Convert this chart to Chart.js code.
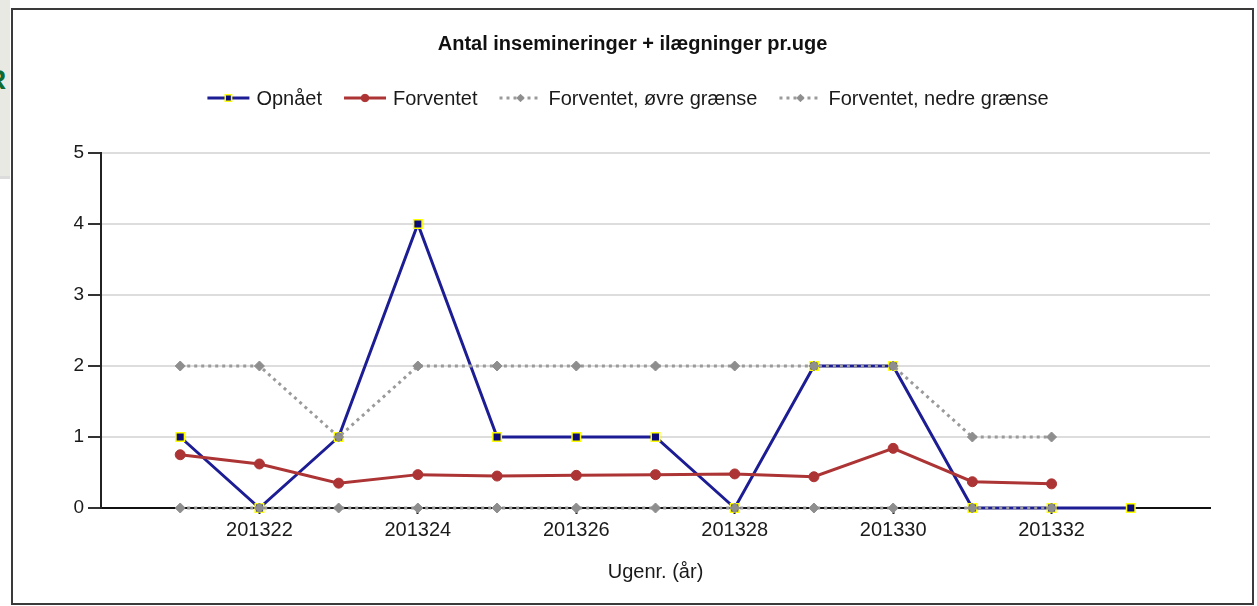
<!DOCTYPE html>
<html>
<head>
<meta charset="utf-8">
<script src="https://cdn.jsdelivr.net/npm/chart.js@4/dist/chart.umd.min.js"></script>
<style>
  body { margin: 0; background: #fff; width: 1257px; height: 606px; overflow: hidden; position: relative; }
  .strip { position: absolute; left: 0; top: 0; width: 10px; height: 176px; background: #e9e9e3; border-bottom: 3px solid #dcdcdc; overflow: hidden; }
  .strip span { position: absolute; left: -14px; top: 64px; font: bold 28px "Liberation Sans", Arial, sans-serif; color: #0b6b33; }
  .frame { position: absolute; left: 11px; top: 8px; width: 1243px; height: 597px; box-sizing: border-box; border: 2px solid #3a3a3a; }
  .wrap { position: absolute; left: 13px; top: 10px; width: 1239px; height: 593px; }
</style>
</head>
<body>
<div class="strip"><span>R</span></div>
<div class="frame"></div>
<div class="wrap"><canvas id="chart"></canvas></div>
<script>
// ── DATA ──
const weeks = [201321, 201322, 201323, 201324, 201325, 201326, 201327, 201328, 201329, 201330, 201331, 201332, 201333];
const opnaaet = [1, 0, 1, 4, 1, 1, 1, 0, 2, 2, 0, 0, 0];
const forventet = [0.75, 0.62, 0.35, 0.47, 0.45, 0.46, 0.47, 0.48, 0.44, 0.84, 0.37, 0.34, null];
const oevreGraense = [2, 2, 1, 2, 2, 2, 2, 2, 2, 2, 1, 1, null];
const nedreGraense = [0, 0, 0, 0, 0, 0, 0, 0, 0, 0, 0, 0, null];
const yTicks = [0, 1, 2, 3, 4, 5];

const FONT = '"Liberation Sans", Arial, sans-serif';
const pts = arr => weeks.map((w, i) => ({ x: w, y: arr[i] }));

// legend: line sample with a small marker in the middle, then the text
const lineLegend = {
  id: 'lineLegend',
  afterDraw(chart) {
    const ctx = chart.ctx;
    const sets = chart.data.datasets;
    const sample = 42, gapText = 7, gapItem = 22, y = 88;
    ctx.save();
    ctx.font = '20px ' + FONT;
    const widths = sets.map(d => sample + gapText + ctx.measureText(d.label).width);
    const total = widths.reduce((a, b) => a + b, 0) + gapItem * (sets.length - 1);
    let x = 615 - total / 2;
    sets.forEach((d, i) => {
      ctx.strokeStyle = d.borderColor;
      ctx.lineWidth = d.borderWidth;
      ctx.setLineDash(d.borderDash || []);
      ctx.beginPath();
      ctx.moveTo(x, y);
      ctx.lineTo(x + sample, y);
      ctx.stroke();
      ctx.setLineDash([]);
      ctx.fillStyle = d.pointBackgroundColor;
      ctx.strokeStyle = d.pointBorderColor;
      ctx.lineWidth = d.pointBorderWidth;
      Chart.helpers.drawPoint(ctx, {
        pointStyle: d.pointStyle,
        radius: d.pointRadius * 0.75,
        rotation: 0,
        borderWidth: d.pointBorderWidth
      }, x + sample / 2, y);
      ctx.fillStyle = '#1a1a1a';
      ctx.textBaseline = 'middle';
      ctx.fillText(d.label, x + sample + gapText, y + 1);
      x += widths[i] + gapItem;
    });
    ctx.restore();
  }
};

window.addEventListener('DOMContentLoaded', () => {
  const canvas = document.getElementById('chart');
  new Chart(canvas.getContext('2d'), {
    type: 'line',
    data: {
      datasets: [
        {
          label: 'Opnået',
          data: pts(opnaaet),
          borderColor: '#1c1c94',
          borderWidth: 3,
          pointStyle: 'rect',
          pointRadius: 6,
          pointHoverRadius: 6,
          pointBackgroundColor: '#0c0c78',
          pointBorderColor: '#ffff00',
          pointBorderWidth: 1.5,
          order: 3,
          clip: false,
        },
        {
          label: 'Forventet',
          data: pts(forventet),
          borderColor: '#ad3434',
          borderWidth: 3,
          pointStyle: 'circle',
          pointRadius: 5,
          pointHoverRadius: 5,
          pointBackgroundColor: '#ad3434',
          pointBorderColor: '#ad3434',
          pointBorderWidth: 1,
          order: 2,
          clip: false,
        },
        {
          label: 'Forventet, øvre grænse',
          data: pts(oevreGraense),
          borderColor: '#9a9a9a',
          borderWidth: 3,
          borderDash: [3, 4],
          pointStyle: 'rectRot',
          pointRadius: 5,
          pointHoverRadius: 5,
          pointBackgroundColor: '#8e8e8e',
          pointBorderColor: '#8e8e8e',
          pointBorderWidth: 1,
          order: 1,
          clip: false,
        },
        {
          label: 'Forventet, nedre grænse',
          data: pts(nedreGraense),
          borderColor: '#9a9a9a',
          borderWidth: 3,
          borderDash: [3, 4],
          pointStyle: 'rectRot',
          pointRadius: 5,
          pointHoverRadius: 5,
          pointBackgroundColor: '#8e8e8e',
          pointBorderColor: '#8e8e8e',
          pointBorderWidth: 1,
          order: 0,
          clip: false,
        },
      ],
    },
    options: {
      responsive: true,
      maintainAspectRatio: false,
      animation: false,
      layout: { padding: { left: 42, right: 42, top: 0, bottom: 0 } },
      plugins: {
        legend: { display: false },
        tooltip: { enabled: false },
        title: {
          display: true,
          text: 'Antal insemineringer + ilægninger pr.uge',
          color: '#111',
          font: { family: FONT, size: 20, weight: 'bold', lineHeight: 1.2 },
          padding: { top: 22, bottom: 97 },
        },
      },
      scales: {
        x: {
          type: 'linear',
          min: weeks[0] - 1,
          max: weeks[weeks.length - 1] + 1,
          afterFit: s => { s.height = 95; },
          afterBuildTicks: s => { s.ticks = []; for (let w = s.min; w <= s.max; w += 2) s.ticks.push({ value: w }); },
          ticks: {
            autoSkip: false,
            maxRotation: 0,
            padding: 4,
            color: '#1a1a1a',
            font: { family: FONT, size: 20 },
            callback: v => (v > weeks[0] && v < weeks[weeks.length - 1]) ? String(v) : '',
          },
          grid: {
            drawOnChartArea: false,
            tickLength: 6,
            tickWidth: 2,
            tickColor: c => (c.tick && c.tick.value > weeks[0] && c.tick.value < weeks[weeks.length - 1]) ? '#222' : 'transparent',
          },
          border: { display: true, color: '#111', width: 2 },
          title: {
            display: true,
            text: 'Ugenr. (år)',
            color: '#1a1a1a',
            font: { family: FONT, size: 20, lineHeight: 1.2 },
            padding: { top: 4, bottom: 19 },
          },
        },
        y: {
          min: yTicks[0],
          max: yTicks[yTicks.length - 1],
          afterFit: s => { s.width = 46; },
          ticks: {
            stepSize: 1,
            padding: 4,
            color: '#1a1a1a',
            font: { family: FONT, size: 19 },
          },
          grid: {
            color: c => (c.tick && c.tick.value === 0) ? 'transparent' : '#dddddd',
            lineWidth: 2,
            tickLength: 13,
            tickWidth: 2,
            tickColor: '#333',
          },
          border: { display: true, color: '#222', width: 2 },
        },
      },
    },
    plugins: [lineLegend],
  });
});
</script>
</body>
</html>
